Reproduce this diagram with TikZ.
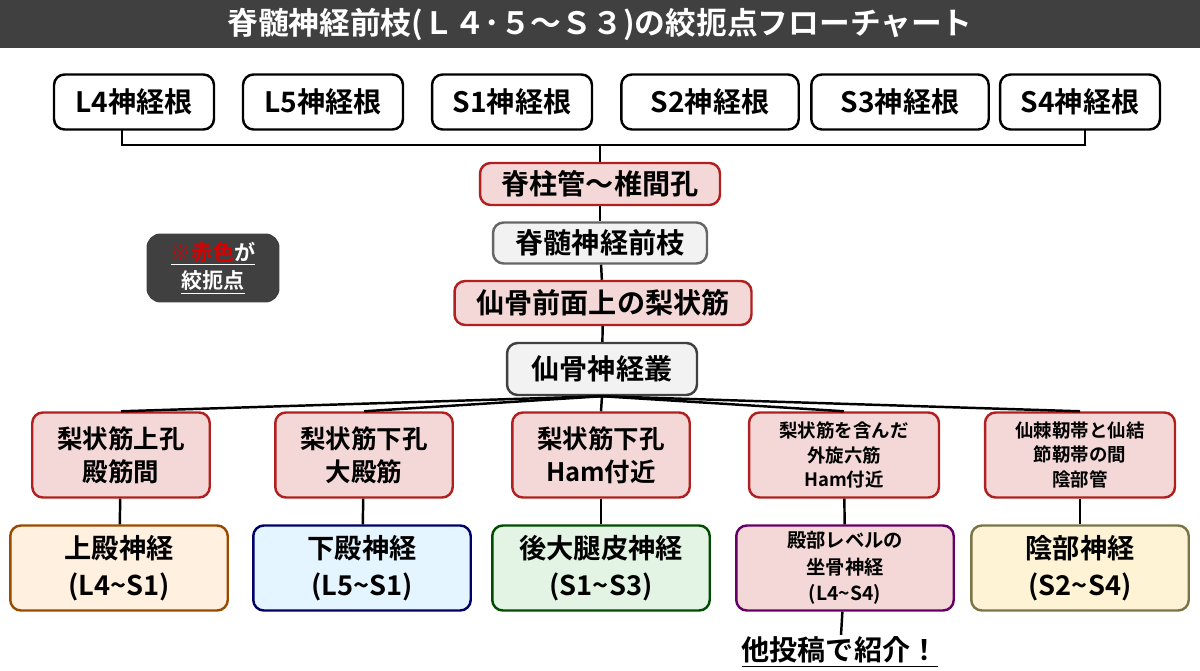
\documentclass[tikz,border=0pt]{standalone}
\usepackage{fontspec}
\setmainfont{Noto Sans CJK JP}[BoldFont={Noto Sans CJK JP Bold}]
\usetikzlibrary{positioning}
\definecolor{pinkfill}{HTML}{F4D7D7}
\definecolor{redline}{HTML}{B02020}
\definecolor{grayfill}{HTML}{F2F2F2}
\definecolor{darkbg}{HTML}{404040}
\begin{document}
\begin{tikzpicture}[x=0.02cm,y=-0.02cm,
    box/.style={draw, rounded corners=6pt, line width=1.4pt, align=center, font=\bfseries\fontsize{16}{18}\selectfont, inner sep=2pt},
    root/.style={box, fill=white, minimum width=3.2cm, minimum height=1.1cm},
    trap/.style={box, fill=pinkfill, draw=redline},
    pass/.style={box, fill=grayfill, draw=black!60},
    mid/.style={trap, minimum width=3.55cm, minimum height=1.7cm, font=\bfseries\fontsize{14.5}{19}\selectfont},
    midsmall/.style={mid, minimum width=3.8cm, font=\bfseries\fontsize{10.5}{14}\selectfont},
    nerve/.style={box, minimum width=4.35cm, minimum height=1.7cm, font=\bfseries\fontsize{15.5}{21}\selectfont},
    link/.style={line width=1.4pt}]

    \useasboundingbox (0,0) rectangle (1200,671);
    % title bar
    \fill[darkbg] (0,0) rectangle (1200,48);
    \node[text=white, font=\bfseries\fontsize{17.5}{20}\selectfont] (title) at (600,24) {脊髄神経前枝(Ｌ４･５〜Ｓ３)の絞扼点フローチャート};

    % nerve roots
    \node[root] (l4) at (134,102) {L4神経根};
    \node[root] (l5) at (323,102) {L5神経根};
    \node[root] (s1) at (512,102) {S1神経根};
    \node[root, minimum width=3.55cm] (s2) at (710,102) {S2神経根};
    \node[root, minimum width=3.55cm] (s3) at (900,102) {S3神経根};
    \node[root] (s4) at (1080,102) {S4神経根};
    \coordinate (bl) at (122,145);
    \coordinate (br) at (1085,145);
    \draw[link] (122,130) -- (bl) -- (br) -- (1085,130);

    % main chain
    \node[trap, minimum width=4.8cm, minimum height=0.84cm] (canal) at (600,184) {脊柱管〜椎間孔};
    \node[pass, minimum width=4.28cm, minimum height=0.82cm] (ramus) at (600,243) {脊髄神経前枝};
    \node[trap, minimum width=5.94cm, minimum height=0.88cm] (pirif) at (603,303) {仙骨前面上の梨状筋};
    \node[pass, draw=black!75, minimum width=3.8cm, minimum height=1.04cm] (plexus) at (602,369) {仙骨神経叢};
    \draw[link] (600,145) -- (canal);
    \draw[link] (canal) -- (ramus);
    \draw[link] (ramus) -- (pirif);
    \draw[link] (pirif) -- (plexus);

    % legend
    \node[fill=darkbg, rounded corners=8pt, minimum width=2.66cm, minimum height=1.38cm, align=center, text=white, font=\bfseries\fontsize{12}{16}\selectfont] (legend) at (213,268)
        {\underline{\textcolor{red!85!black}{※赤色}が}\\\underline{絞扼点}};

    % passages
    \node[mid] (m1) at (121,455) {梨状筋上孔\\殿筋間};
    \node[mid] (m2) at (364,455) {梨状筋下孔\\大殿筋};
    \node[mid] (m3) at (601,455) {梨状筋下孔\\Ham付近};
    \node[midsmall] (m4) at (844,455) {梨状筋を含んだ\\外旋六筋\\Ham付近};
    \node[midsmall] (m5) at (1080,455) {仙棘靭帯と仙結\\節靭帯の間\\陰部管};
    \foreach \m in {m1,m2,m3,m4,m5}
        \draw[link] (plexus.south) -- (\m.north);

    % nerves
    \node[nerve, fill=orange!12, draw=orange!60!black] (n1) at (119,568) {上殿神経\\(L4\textasciitilde S1)};
    \node[nerve, fill=blue!40!cyan!10, draw=blue!40!black] (n2) at (362,568) {下殿神経\\(L5\textasciitilde S1)};
    \node[nerve, fill=green!40!gray!15, draw=green!30!black] (n3) at (601,568) {後大腿皮神経\\(S1\textasciitilde S3)};
    \node[nerve, fill=pinkfill, draw=violet!80!black, font=\bfseries\fontsize{11}{15}\selectfont] (n4) at (845,568) {殿部レベルの\\坐骨神経\\(L4\textasciitilde S4)};
    \node[nerve, fill=yellow!50!orange!15, draw=yellow!40!black] (n5) at (1080,568) {陰部神経\\(S2\textasciitilde S4)};
    \foreach \i in {1,...,5}
        \draw[link] (m\i) -- (n\i);

    \node[font=\bfseries\fontsize{16}{18}\selectfont, inner sep=1pt] (other) at (840,652) {\underline{他投稿で紹介！}};
    \draw[link] (n4) -- (other);
\end{tikzpicture}
\end{document}
